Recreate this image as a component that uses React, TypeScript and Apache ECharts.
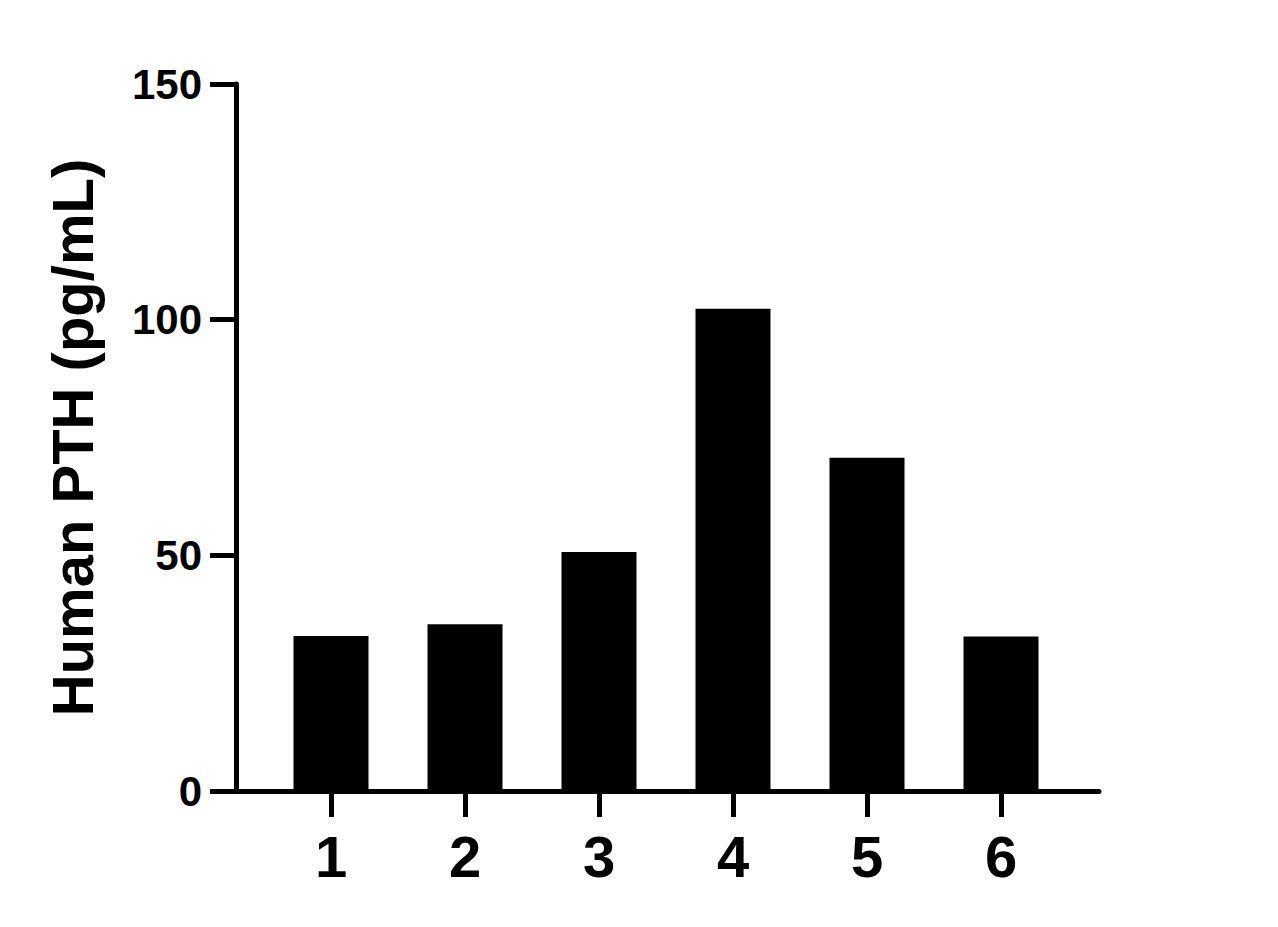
import React, { useEffect, useRef } from "react";
import * as echarts from "echarts";

const categories = [1, 2, 3, 4, 5, 6];
const values = [32.9, 35.4, 50.7, 102.3, 70.7, 32.8];
const yTicks = [0, 50, 100, 150];
const yTitle = "Human PTH (pg/mL)";

export default function App() {
  const ref = useRef<HTMLDivElement>(null);
  useEffect(() => {
    if (!ref.current) return;
    const chart = echarts.init(ref.current, null, { renderer: "svg" });
    const font = "'Liberation Sans', Arial, sans-serif";
    chart.setOption({
      animation: false,
      backgroundColor: "#ffffff",
      grid: { left: 236, top: 84, width: 863, height: 707, containLabel: false },
      xAxis: {
        type: "value",
        min: 0.291,
        max: 6.7313,
        splitLine: { show: false },
        axisLine: { show: true, lineStyle: { color: "#000", width: 5 } },
        axisTick: {
          show: true,
          customValues: categories,
          length: 26,
          lineStyle: { color: "#000", width: 5 },
        },
        axisLabel: {
          customValues: categories,
          margin: 36,
          color: "#000",
          fontSize: 58,
          fontWeight: "bold",
          fontFamily: font,
          formatter: (v: number) => String(v),
        },
      },
      yAxis: {
        type: "value",
        min: 0,
        max: 150,
        interval: 50,
        name: yTitle,
        nameLocation: "middle",
        nameRotate: 90,
        nameGap: 135,
        nameTextStyle: { color: "#000", fontSize: 58, fontWeight: "bold", fontFamily: font },
        splitLine: { show: false },
        axisLine: { show: true, lineStyle: { color: "#000", width: 5 } },
        axisTick: { show: true, length: 26, lineStyle: { color: "#000", width: 5 } },
        axisLabel: {
          margin: 34,
          color: "#000",
          fontSize: 42,
          fontWeight: "bold",
          fontFamily: font,
          formatter: (v: number) => (yTicks.includes(v) ? String(v) : ""),
        },
      },
      series: [
        {
          type: "bar",
          data: categories.map((c, i) => [c, values[i]]),
          barWidth: 75,
          itemStyle: { color: "#000" },
        },
      ],
    });
    return () => chart.dispose();
  }, []);
  return (
    <div
      ref={ref}
      style={{ position: "fixed", left: 0, top: 0, width: 1278, height: 927, background: "#fff" }}
    />
  );
}
